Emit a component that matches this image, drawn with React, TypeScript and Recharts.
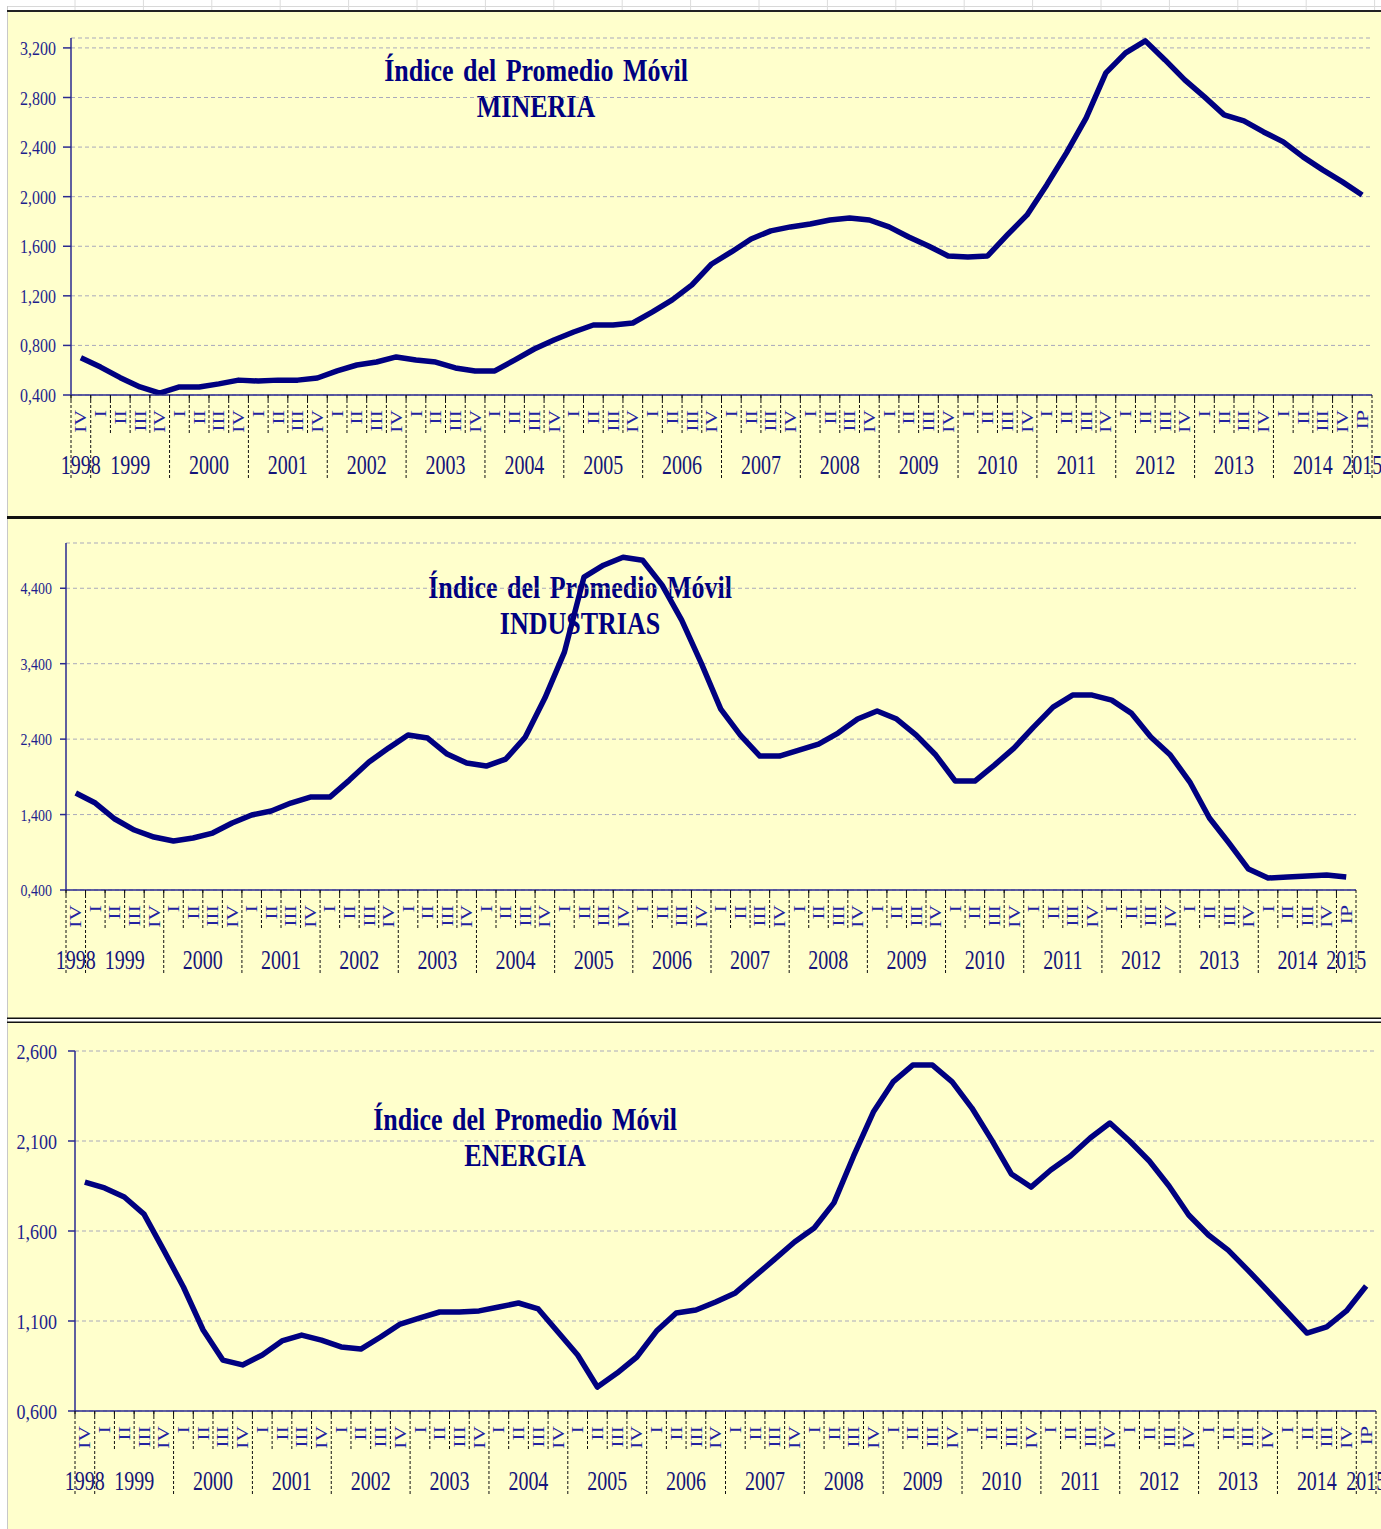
import { LineChart, Line, XAxis, YAxis, CartesianGrid } from "recharts";

const SERIF = '"Liberation Serif", "Times New Roman", serif';
const NAVY = "#000080";
const AXIS = "#2a2a90";

// periods: 1998 IV ... 2015 IP
const years = [
  "1998", "1999", "2000", "2001", "2002", "2003", "2004", "2005", "2006",
  "2007", "2008", "2009", "2010", "2011", "2012", "2013", "2014", "2015",
];
const fullYearQuarters = ["I", "II", "III", "IV"];
const firstYearQuarters = ["IV"];
const lastYearQuarters = ["IP"];

const quarterLabels: string[] = [];
const periodYears: string[] = [];
years.forEach((y, i) => {
  const qs = i === 0 ? firstYearQuarters : i === years.length - 1 ? lastYearQuarters : fullYearQuarters;
  qs.forEach((q) => {
    quarterLabels.push(q);
    periodYears.push(y);
  });
});

const mineria = [
  700, 625, 540, 465, 415, 465, 465, 490, 520, 513,
  520, 520, 537, 594, 642, 666, 707, 682, 666, 618,
  594, 594, 682, 771, 844, 908, 965, 965, 981, 1070,
  1167, 1288, 1457, 1554, 1659, 1724, 1756, 1780, 1812, 1828,
  1812, 1756, 1675, 1602, 1522, 1514, 1522, 1691, 1853, 2095,
  2353, 2635, 2999, 3160, 3257, 3103, 2942, 2805, 2660, 2611,
  2522, 2442, 2321, 2216, 2119, 2014,
];

const industrias = [
  1685, 1553, 1341, 1195, 1102, 1049, 1089, 1155, 1288, 1394,
  1447, 1553, 1632, 1632, 1857, 2096, 2281, 2454, 2414, 2202,
  2083, 2043, 2136, 2427, 2944, 3553, 4547, 4706, 4812, 4772,
  4441, 3977, 3408, 2798, 2454, 2175, 2175, 2255, 2334, 2480,
  2666, 2772, 2666, 2454, 2189, 1844, 1844, 2056, 2281, 2560,
  2825, 2984, 2984, 2917, 2745, 2427, 2189, 1831, 1354, 1023,
  678, 559, 572, 585, 599, 572,
];

const energia = [
  1872, 1839, 1789, 1694, 1494, 1289, 1050, 883, 856, 911,
  989, 1022, 994, 956, 944, 1011, 1083, 1117, 1150, 1150,
  1156, 1178, 1200, 1167, 1039, 911, 733, 811, 900, 1044,
  1144, 1161, 1206, 1256, 1350, 1444, 1539, 1617, 1756, 2017,
  2261, 2428, 2522, 2522, 2428, 2283, 2106, 1917, 1844, 1939,
  2017, 2117, 2200, 2100, 1989, 1850, 1689, 1578, 1494, 1383,
  1267, 1150, 1033, 1067, 1156, 1294,
];

const mineriaTicks = [400, 800, 1200, 1600, 2000, 2400, 2800, 3200];
const industriasTicks = [400, 1400, 2400, 3400, 4400];
const energiaTicks = [600, 1100, 1600, 2100, 2600];

const titleLine1 = "Índice del Promedio Móvil";

const panels = [
  {
    name: "MINERIA", values: mineria, ticks: mineriaTicks, domain: [400, 3280],
    top: 0, height: 500, left: 71, right: 1372, plotTop: 38, axisY: 395,
    yTickSize: 8, yTickMargin: 7, yFont: 16, titleX: 536, titleY: 81,
  },
  {
    name: "INDUSTRIAS", values: industrias, ticks: industriasTicks, domain: [400, 5000],
    top: 500, height: 500, left: 66, right: 1356, plotTop: 43, axisY: 390,
    yTickSize: 6, yTickMargin: 8, yFont: 14, titleX: 580, titleY: 98,
  },
  {
    name: "ENERGIA", values: energia, ticks: energiaTicks, domain: [600, 2600],
    top: 1020, height: 509, left: 75, right: 1376, plotTop: 31, axisY: 391,
    yTickSize: 7, yTickMargin: 11, yFont: 18, titleX: 525, titleY: 110,
  },
];

const fmt = (v: number) => {
  const s = String(Math.round(v)).padStart(4, "0");
  return s.slice(0, s.length - 3) + "," + s.slice(s.length - 3);
};

const makeYTick = (fs: number) => (props: any) => {
  const { x, y, payload } = props;
  return (
    <text
      transform={`translate(${x},${y}) scale(1,1.22)`}
      textAnchor="end"
      dy="0.36em"
      fontSize={fs}
      fontFamily={SERIF}
      fill="#1e1e8c"
    >
      {fmt(payload.value)}
    </text>
  );
};

const makeXTick = (band: number, axisY: number) => (props: any) => {
  const { x } = props;
  const index: number = props.index ?? props.payload?.index ?? 0;
  const yr = periodYears[index];
  const newYear = index === 0 || periodYears[index - 1] !== yr;
  const last = index === periodYears.length - 1;
  const left = x - band / 2;
  const groupSize = periodYears.filter((p) => p === yr).length;
  return (
    <g>
      <line x1={left} x2={left} y1={axisY} y2={axisY + 5} stroke="#111" strokeWidth={1} />
      <line
        x1={left} x2={left} y1={axisY} y2={axisY + (newYear ? 83 : 40)}
        stroke="#111" strokeWidth={1} strokeDasharray="3 2"
      />
      {last && (
        <line
          x1={x + band / 2} x2={x + band / 2} y1={axisY} y2={axisY + 83}
          stroke="#111" strokeWidth={1} strokeDasharray="3 2"
        />
      )}
      <text
        transform={`translate(${x},${axisY + 15}) rotate(-90) scale(1.35,1)`}
        textAnchor="end"
        dy="0.35em"
        fontSize={16}
        fontFamily={SERIF}
        fill="#2323a0"
      >
        {quarterLabels[index]}
      </text>
      {newYear && (
        <text
          transform={`translate(${left + (groupSize * band) / 2},${axisY + 79}) scale(1,1.36)`}
          textAnchor="middle"
          fontSize={20}
          fontFamily={SERIF}
          fill="#14147a"
        >
          {yr}
        </text>
      )}
    </g>
  );
};

const Background = () => {
  const cells: number[] = [];
  for (let x = 75; x < 1381; x += 68.4) cells.push(x);
  return (
    <svg width={1381} height={1529} style={{ position: "absolute", left: 0, top: 0 }}>
      <rect x={0} y={0} width={1381} height={1529} fill="#ffffff" />
      <line x1={8} x2={1381} y1={6.5} y2={6.5} stroke="#d8d8d8" />
      {cells.map((cx) => (
        <line key={cx} x1={cx} x2={cx} y1={0} y2={10} stroke="#dcdcdc" />
      ))}
      <rect x={8} y={12} width={1373} height={1517} fill="#FFFFCC" />
      <line x1={7.5} x2={7.5} y1={6} y2={1529} stroke="#c8c8c8" />
      <rect x={7} y={10} width={1374} height={2} fill="#222" />
      <rect x={7} y={516} width={1374} height={3} fill="#111" />
      <rect x={8} y={1019} width={1373} height={3} fill="#ffffff" />
      <rect x={7} y={1017.5} width={1374} height={1.5} fill="#111" />
      <rect x={7} y={1021.5} width={1374} height={1.5} fill="#111" />
      {panels.map((p) => (
        <g key={p.name} fill={NAVY} fontFamily={SERIF} fontWeight="bold" fontSize={26}>
          <text
            transform={`translate(${p.titleX},${p.top + p.titleY}) scale(1,1.18)`}
            textAnchor="middle"
            wordSpacing={3}
          >
            {titleLine1}
          </text>
          <text
            transform={`translate(${p.titleX},${p.top + p.titleY + 36}) scale(1,1.18)`}
            textAnchor="middle"
          >
            {p.name}
          </text>
        </g>
      ))}
    </svg>
  );
};

const Panel = ({ cfg }: { cfg: (typeof panels)[number] }) => {
  const data = cfg.values.map((v, i) => ({
    id: `${periodYears[i]}-${quarterLabels[i]}`,
    value: v,
  }));
  const band = (cfg.right - cfg.left) / data.length;
  const xAxisH = cfg.height - cfg.axisY;
  return (
    <div style={{ position: "absolute", left: 0, top: cfg.top }}>
      <LineChart
        width={1381}
        height={cfg.height}
        data={data}
        margin={{ top: cfg.plotTop, right: 1381 - cfg.right, left: 0, bottom: 0 }}
      >
        <CartesianGrid horizontal vertical={false} stroke="#a9a9bb" strokeDasharray="4 3" />
        <XAxis
          dataKey="id"
          height={xAxisH}
          interval={0}
          padding={{ left: band / 2, right: band / 2 }}
          tickLine={false}
          axisLine={{ stroke: AXIS, strokeWidth: 1.5 }}
          tick={makeXTick(band, cfg.axisY)}
        />
        <XAxis
          xAxisId="top"
          orientation="top"
          dataKey="id"
          height={0}
          tick={false}
          tickLine={false}
          padding={{ left: band / 2, right: band / 2 }}
          axisLine={{ stroke: AXIS, strokeWidth: 1.5 }}
        />
        <YAxis
          width={cfg.left}
          domain={cfg.domain}
          ticks={cfg.ticks}
          allowDataOverflow
          tickSize={cfg.yTickSize}
          tickMargin={cfg.yTickMargin}
          tickLine={{ stroke: AXIS, strokeWidth: 1.5 }}
          axisLine={{ stroke: AXIS, strokeWidth: 1.5 }}
          tick={makeYTick(cfg.yFont)}
        />
        <YAxis
          yAxisId="right"
          orientation="right"
          width={0}
          domain={cfg.domain}
          tick={false}
          tickLine={false}
          axisLine={{ stroke: AXIS, strokeWidth: 1.5 }}
        />
        <Line
          dataKey="value"
          type="linear"
          stroke={NAVY}
          strokeWidth={5.5}
          strokeLinejoin="round"
          dot={false}
          isAnimationActive={false}
        />
      </LineChart>
    </div>
  );
};

export default function App() {
  return (
    <div style={{ position: "absolute", left: 0, top: 0, width: 1381, height: 1529, overflow: "hidden" }}>
      <Background />
      {panels.map((p) => (
        <Panel key={p.name} cfg={p} />
      ))}
    </div>
  );
}
